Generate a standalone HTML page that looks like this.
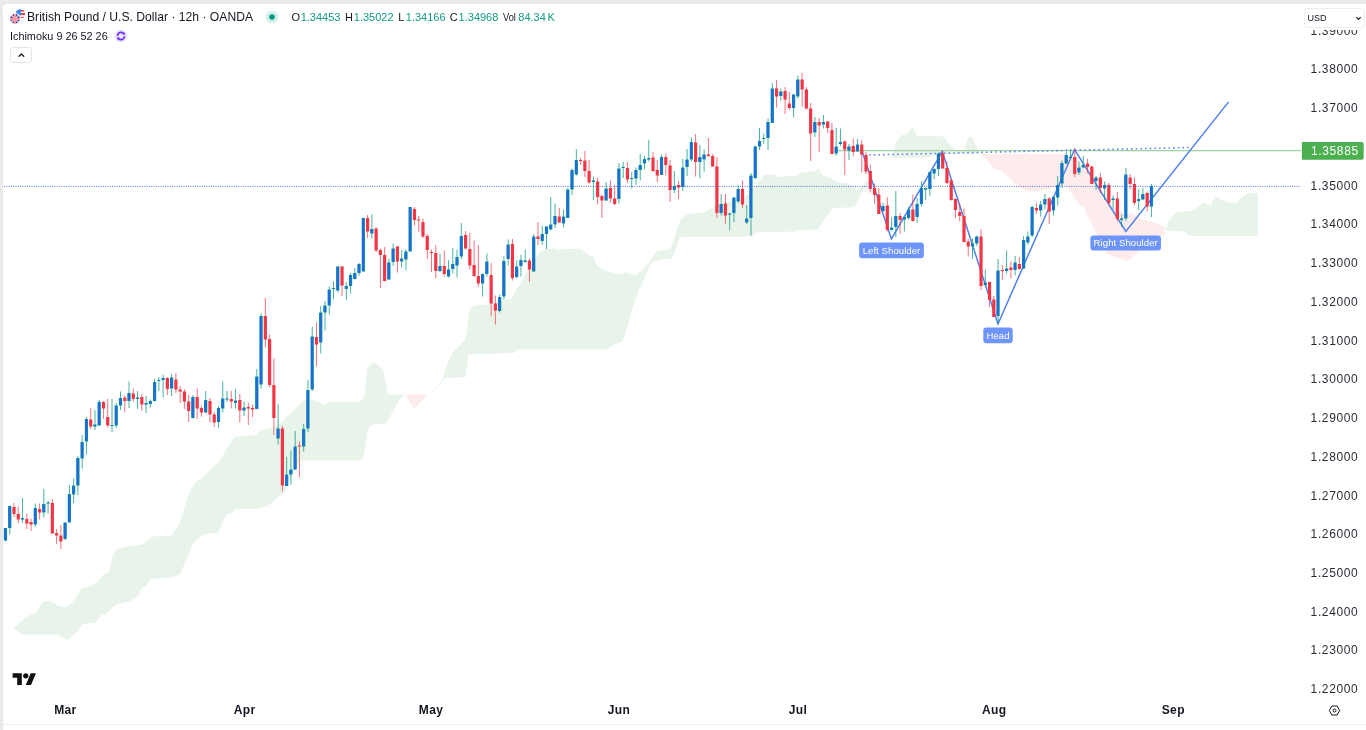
<!DOCTYPE html>
<html><head><meta charset="utf-8"><title>GBPUSD</title>
<style>
html,body{margin:0;padding:0;background:#fff;}
body{width:1366px;height:730px;position:relative;overflow:hidden;font-family:"Liberation Sans",sans-serif;}
svg text{font-family:"Liberation Sans",sans-serif;}
.frame-top{position:absolute;left:0;top:0;width:1366px;height:4px;background:#eaeaea;}
.frame-left{position:absolute;left:0;top:0;width:4px;height:730px;background:linear-gradient(to right,#e7e7e7 0,#ebebeb 2.7px,#fff 3.8px);}
.frame-corner{position:absolute;left:0;top:0;width:9px;height:10px;background:#eaeaea;}
.frame-corner i{position:absolute;left:3px;top:4px;width:12px;height:12px;background:#fff;border-top-left-radius:4px;display:block;}
.frame-bottom{position:absolute;left:3px;top:723.5px;width:1363px;height:1px;background:#efefef;}
.hdr{position:absolute;white-space:nowrap;color:#131722;will-change:transform;}
.t1{left:27.3px;top:10.4px;font-size:12.15px;line-height:14px;}
.t2{left:10.4px;top:29.6px;font-size:10.85px;line-height:13px;}
.ohlc{left:0;top:11.1px;font-size:11px;line-height:13px;}
.ohlc b{font-weight:normal;color:#159a84;}
.ohlc i{position:absolute;top:0;font-style:normal}
.btn{position:absolute;left:9.7px;top:46.7px;width:20.6px;height:14.4px;border:1px solid #e4e5e9;border-radius:3px;background:#fff;}
.usd{will-change:transform;position:absolute;left:1303.6px;top:7.5px;width:58.8px;height:17.6px;border:1px solid #eceef2;border-radius:4px;background:#fff;}
.usdbg{position:absolute;left:1300px;top:4px;width:66px;height:26px;background:#fff;}
.usd span{position:absolute;left:2.6px;top:4.2px;font-size:9px;line-height:10px;color:#131722;letter-spacing:-0.1px}
</style></head><body>
<div class="frame-top"></div><div class="frame-left"></div><div class="frame-corner"><i></i></div><div class="frame-bottom"></div>
<svg width="1366" height="730" viewBox="0 0 1366 730" style="position:absolute;left:0;top:0;will-change:transform"><polygon points="4.4,628.5 13.2,628.0 22.0,620.6 30.8,614.8 35.2,613.3 44.0,600.7 51.3,601.6 58.7,606.0 66.0,607.4 71.8,603.0 82.1,588.4 88.0,586.9 96.8,581.9 104.1,573.7 108.5,572.2 112.9,556.1 117.3,548.8 126.1,546.7 142.2,544.4 149.6,537.9 152.5,536.5 171.6,535.6 178.9,525.3 183.3,512.1 187.7,496.0 193.5,484.3 199.4,479.3 202.3,478.4 211.1,468.1 219.9,460.8 227.3,447.6 234.6,437.3 240.5,435.9 255.1,435.3 261.0,430.0 272.0,428.0 281.0,423.0 286.0,417.0 296.0,408.0 304.0,400.0 316.0,400.5 325.0,405.5 329.0,402.2 360.0,402.2 364.4,395.4 367.3,369.0 371.7,362.6 376.1,363.2 383.4,370.5 387.8,394.5 402.5,394.5 405.4,394.5 405.4,394.5 399.6,399.8 393.7,410.1 386.4,423.3 374.6,424.2 371.0,425.0 367.5,431.0 366.0,442.0 363.5,457.0 360.7,460.5 300.0,460.5 286.0,488.0 283.0,495.0 278.6,496.0 268.3,505.7 258.1,508.6 234.6,509.2 231.7,513.0 225.8,515.0 218.5,532.6 205.3,534.1 197.9,538.5 193.5,542.9 187.7,556.1 180.4,573.7 173.0,577.5 158.4,578.1 149.6,579.6 146.6,586.0 142.2,587.8 136.4,597.7 129.0,601.6 117.3,603.9 112.9,607.4 105.6,614.2 101.2,615.3 95.3,622.7 82.1,624.1 77.7,630.9 71.8,636.7 67.4,639.7 63.0,638.2 57.2,634.4 22.0,634.4 13.2,628.5 4.4,628.5" fill="#e8f4ea"/><polygon points="405.4,394.5 427.4,394.5 414.2,409.2" fill="#fdeceb"/><polygon points="428.9,394.5 437.7,385.2 442.1,380.8 446.5,366.1 452.3,352.9 456.0,349.0 460.0,345.0 465.0,340.0 467.0,330.0 469.0,313.0 471.0,308.0 474.0,305.5 489.0,304.5 504.0,300.0 512.0,298.5 516.0,290.0 522.0,281.0 527.0,270.0 536.0,257.0 540.0,252.0 546.0,249.0 554.0,248.5 559.0,250.0 563.0,249.0 580.0,249.0 585.0,252.0 589.0,255.5 593.0,256.0 596.0,264.0 600.0,268.0 606.4,271.0 618.1,274.0 626.9,272.5 635.7,275.4 641.6,271.0 648.0,264.0 655.0,253.0 658.0,250.4 670.0,249.6 674.0,240.0 678.0,226.0 681.0,219.0 688.0,214.0 704.0,212.4 716.0,206.0 720.0,204.0 748.0,195.0 754.0,188.0 760.0,181.0 764.0,175.0 775.0,174.5 778.0,177.0 792.0,175.5 794.0,177.0 800.0,173.0 815.0,171.0 819.0,168.5 820.0,171.3 823.0,175.8 828.3,177.0 837.3,181.9 848.6,183.4 852.4,186.0 856.9,189.8 860.7,187.9 865.2,181.9 868.5,181.0 868.8,184.0 862.2,191.7 860.0,196.2 856.2,204.5 851.7,207.5 832.1,207.9 829.0,214.3 823.4,221.0 818.0,229.5 800.0,230.0 795.0,231.5 756.0,232.5 752.0,236.5 681.0,237.0 679.0,240.0 676.0,248.0 672.0,258.6 658.0,260.0 652.0,263.0 649.0,267.0 644.0,280.0 640.0,288.0 633.0,306.0 628.3,325.0 622.4,341.2 615.1,344.1 606.3,349.4 516.9,349.4 513.9,352.9 468.5,354.4 465.5,377.2 445.0,377.8 440.6,383.7 428.9,394.5" fill="#e8f4ea"/><polygon points="891.2,157.7 894.2,149.4 896.5,141.8 900.7,135.9 907.7,132.9 912.8,127.0 917.0,136.2 943.0,136.2 948.0,142.0 954.7,149.7 958.0,151.0 963.9,149.7 968.3,137.0 971.8,137.0 976.0,146.0 978.3,149.7 981.2,153.9 940.0,154.0 925.0,157.5" fill="#e8f4ea"/><polygon points="981.2,153.9 1066.6,153.9 1075.0,158.0 1090.0,175.0 1100.0,188.0 1114.0,208.0 1125.0,214.0 1132.0,213.0 1141.0,219.0 1152.0,221.5 1164.7,227.2 1164.6,235.3 1161.0,236.0 1150.0,243.0 1140.2,249.7 1134.7,255.2 1126.4,261.8 1123.7,259.6 1112.8,256.3 1106.2,253.0 1099.0,240.0 1093.0,226.6 1088.6,217.9 1084.2,206.9 1079.8,204.7 1073.2,195.9 1066.6,186.0 1057.9,186.0 1042.5,190.4 1029.3,191.5 1021.6,188.2 1014.0,182.7 1003.0,171.7 994.0,168.4 989.8,163.0" fill="#fdeceb"/><polygon points="1165.1,228.3 1167.1,226.7 1168.3,221.8 1172.0,216.1 1176.8,211.7 1189.8,211.3 1197.0,207.3 1202.7,202.8 1210.8,205.0 1215.2,195.9 1223.7,201.2 1229.4,202.8 1236.6,203.0 1240.7,198.0 1248.8,193.1 1257.8,192.9 1257.8,236.0 1189.0,236.0 1184.9,231.5 1167.1,231.1" fill="#e8f4ea"/><line x1="837" y1="150.6" x2="1301" y2="150.6" stroke="#9ed3a0" stroke-width="1.4"/><polyline points="862.5,152.5 891.4,239 942.3,151.5 998,324 1074.5,149.5 1125.8,231.5 1228.6,101.9" fill="none" stroke="#4f81ee" stroke-width="1.5" stroke-linejoin="miter"/><line x1="869" y1="155" x2="1190" y2="147.5" stroke="#5b86f0" stroke-width="1.6" stroke-dasharray="1.6 3.08"/><rect x="859.1" y="242.5" width="64.8" height="15.8" rx="3" fill="#668ffb" fill-opacity="0.95"/><text x="891.5" y="253.86" font-size="9.6" fill="#fff" text-anchor="middle" letter-spacing="0.05">Left Shoulder</text><rect x="983.3" y="327.5" width="29.4" height="15.8" rx="3" fill="#668ffb" fill-opacity="0.95"/><text x="998.0" y="338.86" font-size="9.6" fill="#fff" text-anchor="middle" letter-spacing="0.05">Head</text><rect x="1090.4" y="235.4" width="70.6" height="15.2" rx="3" fill="#668ffb" fill-opacity="0.95"/><text x="1125.7" y="246.46" font-size="9.6" fill="#fff" text-anchor="middle" letter-spacing="0.05">Right Shoulder</text><path d="M5.50 528.0V541.5M9.76 505.5V534.5M22.54 498.0V523.0M35.32 503.5V527.0M43.84 489.0V517.5M48.10 501.0V513.5M65.14 522.5V540.0M69.40 485.0V522.5M73.66 478.5V503.0M77.92 456.0V495.0M82.18 435.0V468.5M86.44 417.0V454.5M94.96 410.0V430.0M99.22 400.0V426.0M112.00 399.0V432.0M116.26 403.0V428.0M120.52 391.5V410.0M129.04 381.5V408.0M137.56 391.0V409.0M146.08 396.0V413.0M150.34 399.5V407.5M154.60 379.0V401.5M158.86 377.0V391.0M163.12 374.5V397.5M171.64 374.0V396.0M192.94 395.0V418.5M205.72 391.0V413.0M218.50 406.0V428.0M222.76 381.5V412.5M227.02 391.0V402.0M235.54 389.0V408.5M244.06 401.5V416.0M256.84 369.0V409.0M261.10 313.5V388.5M278.14 404.0V444.5M286.66 457.0V486.0M290.92 450.5V485.0M295.18 431.0V470.0M303.70 424.0V451.5M307.96 380.0V432.0M312.22 327.0V391.0M320.74 306.0V353.5M325.00 301.0V330.5M329.26 286.5V314.5M333.52 281.0V299.0M337.78 266.0V292.5M346.30 282.0V300.0M350.56 273.0V293.5M354.82 268.0V279.5M359.08 263.0V275.5M363.34 217.5V271.5M371.86 214.5V238.5M388.90 258.5V280.0M393.16 243.5V266.0M401.68 250.0V267.5M405.94 249.5V270.0M410.20 207.0V251.5M440.02 254.0V272.0M448.54 260.0V277.5M452.80 248.0V273.5M457.06 249.5V277.5M461.32 223.0V259.0M482.62 273.5V296.5M486.88 253.5V276.5M499.66 294.5V312.5M503.92 256.0V299.5M508.18 239.5V265.5M516.70 260.5V278.5M520.96 255.0V276.5M525.22 249.5V262.5M533.74 234.0V271.5M542.26 226.0V245.0M546.52 226.0V249.0M550.78 197.0V230.5M555.04 203.5V228.0M563.56 209.5V227.5M567.82 188.0V218.0M572.08 168.5V195.0M576.34 149.0V175.5M593.38 176.5V200.0M606.16 182.0V201.0M618.94 163.0V203.5M623.20 162.0V178.0M631.72 172.0V188.5M635.98 167.5V185.0M640.24 154.0V180.5M644.50 156.0V169.5M648.76 140.0V161.5M661.54 154.5V175.0M674.32 171.0V193.0M682.84 159.0V191.0M687.10 149.0V176.0M691.36 137.5V161.5M699.88 145.0V178.5M704.14 149.5V171.5M721.18 194.0V215.5M729.70 213.0V230.5M733.96 197.0V222.0M738.22 185.0V203.0M746.74 205.0V224.0M751.00 173.0V235.5M755.26 145.5V179.0M759.52 128.0V150.0M763.78 133.5V144.0M768.04 118.5V150.0M772.30 83.0V123.0M780.82 88.5V100.5M793.60 94.0V117.5M797.86 75.5V98.5M814.90 117.0V137.0M823.42 115.0V128.5M836.20 128.0V155.5M840.46 128.5V146.0M848.98 144.0V160.0M857.50 139.0V151.5M883.06 203.0V212.0M891.58 217.0V230.5M895.84 191.0V237.0M904.36 216.5V231.5M908.62 207.0V219.5M917.14 198.0V223.0M921.40 181.0V206.5M925.66 187.5V200.0M929.92 171.5V196.0M934.18 168.5V179.0M938.44 152.5V176.0M972.52 238.5V259.0M976.78 235.5V246.0M985.30 269.5V286.0M998.08 259.0V324.0M1006.60 250.5V273.5M1015.12 256.0V275.5M1023.64 236.0V269.0M1027.90 231.5V244.5M1032.16 205.5V237.0M1040.68 201.0V216.5M1044.94 194.0V209.5M1053.46 196.0V215.5M1057.72 176.0V205.5M1061.98 160.5V188.0M1066.24 152.0V164.0M1070.50 149.5V159.0M1079.02 161.5V175.0M1083.28 156.0V167.5M1096.06 176.0V190.0M1104.58 181.5V200.0M1113.10 195.5V209.0M1121.62 214.5V227.0M1125.88 168.0V221.0M1138.66 189.0V210.0M1142.92 188.0V200.0M1151.44 184.0V217.0" stroke="#089981" stroke-width="1" fill="none" opacity="0.75"/><path d="M14.02 503.0V517.0M18.28 506.5V523.5M26.80 513.5V529.0M31.06 518.5V531.0M39.58 503.5V519.5M52.36 499.0V533.5M56.62 529.0V544.0M60.88 525.0V549.0M90.70 408.0V429.0M103.48 401.0V419.0M107.74 399.0V427.5M124.78 395.5V412.0M133.30 388.5V401.5M141.82 394.0V411.0M167.38 377.0V395.0M175.90 373.0V393.0M180.16 386.0V403.0M184.42 389.0V409.0M188.68 395.0V422.0M197.20 388.5V419.0M201.46 406.0V416.5M209.98 398.0V422.5M214.24 412.0V427.0M231.28 391.0V408.5M239.80 394.0V422.5M248.32 402.5V425.0M252.58 404.5V417.0M265.36 298.0V347.5M269.62 334.5V387.5M273.88 358.5V435.0M282.40 426.0V491.5M299.44 441.5V477.5M316.48 322.5V366.5M342.04 266.0V296.0M367.60 215.0V238.0M376.12 227.5V252.0M380.38 248.5V288.0M384.64 247.0V281.5M397.42 246.0V272.5M414.46 207.0V225.5M418.72 216.0V231.5M422.98 218.5V238.0M427.24 234.0V259.0M431.50 249.5V272.0M435.76 245.0V278.0M444.28 250.5V276.5M465.58 231.0V249.5M469.84 233.0V269.5M474.10 240.5V277.0M478.36 245.0V286.5M491.14 263.0V316.5M495.40 295.5V324.5M512.44 239.0V280.5M529.48 258.5V282.0M538.00 222.0V245.0M559.30 208.0V223.0M580.60 158.0V165.0M584.86 151.0V177.0M589.12 160.0V184.5M597.64 177.5V204.5M601.90 194.5V218.0M610.42 180.5V202.5M614.68 185.0V205.5M627.46 162.0V183.0M653.02 152.0V172.0M657.28 160.0V182.0M665.80 153.5V175.5M670.06 160.0V202.0M678.58 181.0V199.0M695.62 134.0V176.5M708.40 138.0V157.0M712.66 154.0V167.0M716.92 157.0V218.0M725.44 194.0V223.5M742.48 180.5V208.0M776.56 80.0V107.5M785.08 87.0V114.0M789.34 92.0V110.0M802.12 73.0V106.5M806.38 87.0V109.5M810.64 103.0V161.0M819.16 118.0V152.0M827.68 121.0V133.0M831.94 123.0V154.0M844.72 140.5V175.0M853.24 138.5V156.5M861.76 140.0V172.5M866.02 152.0V174.0M870.28 164.5V192.5M874.54 183.5V203.5M878.80 188.0V214.0M887.32 197.5V231.5M900.10 213.0V234.0M912.88 194.5V221.5M942.70 151.0V168.5M946.96 161.0V184.0M951.22 179.0V200.5M955.48 198.5V218.0M959.74 203.0V221.5M964.00 208.5V242.5M968.26 239.0V256.5M981.04 229.0V290.0M989.56 281.5V307.0M993.82 296.0V317.0M1002.34 265.0V280.0M1010.86 261.5V278.5M1019.38 257.0V269.5M1036.42 203.0V214.0M1049.20 197.0V224.0M1074.76 148.0V177.0M1087.54 159.0V173.0M1091.80 165.5V184.0M1100.32 173.0V193.0M1108.84 183.0V205.5M1117.36 192.0V221.5M1130.14 174.0V189.0M1134.40 177.5V205.5M1147.18 191.5V211.5" stroke="#f23645" stroke-width="1" fill="none" opacity="0.7"/><path d="M3.90 528.0h3.2V540.5h-3.2zM8.16 506.0h3.2V528.0h-3.2zM20.94 518.0h3.2V519.5h-3.2zM33.72 508.0h3.2V524.5h-3.2zM42.24 504.0h3.2V512.5h-3.2zM46.50 502.4h3.2V503.6h-3.2zM63.54 522.5h3.2V539.0h-3.2zM67.80 494.0h3.2V522.5h-3.2zM72.06 485.5h3.2V494.5h-3.2zM76.32 458.0h3.2V485.5h-3.2zM80.58 442.0h3.2V458.5h-3.2zM84.84 419.0h3.2V441.5h-3.2zM93.36 424.5h3.2V426.5h-3.2zM97.62 402.0h3.2V425.5h-3.2zM110.40 424.9h3.2V426.1h-3.2zM114.66 405.5h3.2V425.5h-3.2zM118.92 398.0h3.2V405.5h-3.2zM127.44 393.0h3.2V401.0h-3.2zM135.96 397.5h3.2V399.0h-3.2zM144.48 403.0h3.2V404.5h-3.2zM148.74 401.0h3.2V404.0h-3.2zM153.00 382.0h3.2V401.0h-3.2zM157.26 379.9h3.2V381.1h-3.2zM161.52 378.0h3.2V380.0h-3.2zM170.04 377.5h3.2V388.5h-3.2zM191.34 397.0h3.2V418.0h-3.2zM204.12 400.0h3.2V412.5h-3.2zM216.90 408.0h3.2V422.0h-3.2zM221.16 398.5h3.2V408.5h-3.2zM225.42 398.4h3.2V399.6h-3.2zM233.94 400.5h3.2V403.0h-3.2zM242.46 407.5h3.2V410.5h-3.2zM255.24 376.5h3.2V409.0h-3.2zM259.50 316.0h3.2V384.5h-3.2zM276.54 428.5h3.2V438.5h-3.2zM285.06 474.5h3.2V486.0h-3.2zM289.32 469.5h3.2V474.5h-3.2zM293.58 446.5h3.2V469.5h-3.2zM302.10 429.0h3.2V446.5h-3.2zM306.36 390.0h3.2V428.5h-3.2zM310.62 336.5h3.2V389.5h-3.2zM319.14 312.5h3.2V342.5h-3.2zM323.40 305.5h3.2V312.5h-3.2zM327.66 289.5h3.2V305.5h-3.2zM331.92 287.9h3.2V289.1h-3.2zM336.18 266.5h3.2V290.5h-3.2zM344.70 286.0h3.2V289.0h-3.2zM348.96 275.0h3.2V286.0h-3.2zM353.22 273.0h3.2V279.0h-3.2zM357.48 264.0h3.2V273.0h-3.2zM361.74 218.0h3.2V271.5h-3.2zM370.26 229.0h3.2V233.5h-3.2zM387.30 262.5h3.2V279.5h-3.2zM391.56 248.5h3.2V262.0h-3.2zM400.08 258.5h3.2V261.5h-3.2zM404.34 251.5h3.2V259.5h-3.2zM408.60 207.0h3.2V251.5h-3.2zM438.42 266.0h3.2V271.0h-3.2zM446.94 269.5h3.2V276.5h-3.2zM451.20 264.0h3.2V269.0h-3.2zM455.46 257.0h3.2V265.5h-3.2zM459.72 236.0h3.2V256.5h-3.2zM481.02 274.0h3.2V283.5h-3.2zM485.28 261.5h3.2V274.0h-3.2zM498.06 297.0h3.2V311.0h-3.2zM502.32 261.0h3.2V296.5h-3.2zM506.58 244.5h3.2V259.0h-3.2zM515.10 266.5h3.2V277.0h-3.2zM519.36 260.0h3.2V266.0h-3.2zM523.62 260.5h3.2V262.0h-3.2zM532.14 236.5h3.2V271.5h-3.2zM540.66 234.0h3.2V241.0h-3.2zM544.92 226.5h3.2V234.0h-3.2zM549.18 224.5h3.2V229.5h-3.2zM553.44 216.0h3.2V224.5h-3.2zM561.96 216.5h3.2V223.5h-3.2zM566.22 189.5h3.2V218.0h-3.2zM570.48 170.0h3.2V189.5h-3.2zM574.74 160.0h3.2V174.5h-3.2zM591.78 180.5h3.2V182.0h-3.2zM604.56 188.5h3.2V200.5h-3.2zM617.34 168.5h3.2V199.0h-3.2zM621.60 166.9h3.2V168.1h-3.2zM630.12 177.9h3.2V179.1h-3.2zM634.38 170.0h3.2V178.5h-3.2zM638.64 165.0h3.2V170.0h-3.2zM642.90 159.0h3.2V163.5h-3.2zM647.16 158.0h3.2V159.5h-3.2zM659.94 157.0h3.2V175.0h-3.2zM672.72 186.0h3.2V190.0h-3.2zM681.24 167.5h3.2V187.0h-3.2zM685.50 159.5h3.2V167.0h-3.2zM689.76 142.0h3.2V159.5h-3.2zM698.28 157.0h3.2V162.0h-3.2zM702.54 154.5h3.2V159.5h-3.2zM719.58 204.0h3.2V213.0h-3.2zM728.10 213.4h3.2V214.6h-3.2zM732.36 197.5h3.2V213.0h-3.2zM736.62 189.0h3.2V201.5h-3.2zM745.14 218.5h3.2V222.5h-3.2zM749.40 175.5h3.2V218.0h-3.2zM753.66 146.5h3.2V178.0h-3.2zM757.92 141.0h3.2V146.5h-3.2zM762.18 137.9h3.2V139.1h-3.2zM766.44 122.0h3.2V138.0h-3.2zM770.70 88.5h3.2V123.0h-3.2zM779.22 91.5h3.2V96.0h-3.2zM792.00 94.5h3.2V108.0h-3.2zM796.26 79.5h3.2V96.5h-3.2zM813.30 122.0h3.2V132.5h-3.2zM821.82 122.0h3.2V124.5h-3.2zM834.60 146.5h3.2V153.5h-3.2zM838.86 142.0h3.2V144.0h-3.2zM847.38 146.5h3.2V150.5h-3.2zM855.90 144.5h3.2V151.5h-3.2zM881.46 206.0h3.2V211.0h-3.2zM889.98 227.5h3.2V230.0h-3.2zM894.24 216.0h3.2V227.0h-3.2zM902.76 217.0h3.2V219.5h-3.2zM907.02 209.5h3.2V218.0h-3.2zM915.54 204.0h3.2V217.0h-3.2zM919.80 188.0h3.2V204.0h-3.2zM924.06 188.0h3.2V189.5h-3.2zM928.32 172.0h3.2V189.0h-3.2zM932.58 169.0h3.2V173.5h-3.2zM936.84 153.5h3.2V169.0h-3.2zM970.92 243.5h3.2V246.5h-3.2zM975.18 236.5h3.2V243.5h-3.2zM983.70 282.5h3.2V285.0h-3.2zM996.48 270.5h3.2V316.0h-3.2zM1005.00 268.5h3.2V271.0h-3.2zM1013.52 262.5h3.2V270.0h-3.2zM1022.04 240.0h3.2V268.5h-3.2zM1026.30 236.5h3.2V242.5h-3.2zM1030.56 207.0h3.2V235.5h-3.2zM1039.08 204.5h3.2V210.5h-3.2zM1043.34 199.0h3.2V204.5h-3.2zM1051.86 197.0h3.2V210.5h-3.2zM1056.12 185.0h3.2V197.5h-3.2zM1060.38 163.0h3.2V183.5h-3.2zM1064.64 155.0h3.2V163.5h-3.2zM1068.90 156.9h3.2V158.1h-3.2zM1077.42 167.5h3.2V172.5h-3.2zM1081.68 165.0h3.2V167.5h-3.2zM1094.46 177.5h3.2V181.0h-3.2zM1102.98 185.0h3.2V188.5h-3.2zM1111.50 198.5h3.2V200.0h-3.2zM1120.02 218.5h3.2V220.0h-3.2zM1124.28 174.5h3.2V218.5h-3.2zM1137.06 199.0h3.2V201.0h-3.2zM1141.32 194.0h3.2V199.5h-3.2zM1149.84 186.0h3.2V206.5h-3.2z" fill="#089981"/><path d="M4.15 528.5h2.3V540.0h-2.3zM8.41 506.5h2.3V527.5h-2.3zM21.34 518.3h2.0V519.2h-2.0zM33.97 508.5h2.3V524.0h-2.3zM42.49 504.5h2.3V512.0h-2.3zM46.90 502.7h2.0V503.3h-2.0zM63.79 523.0h2.3V538.5h-2.3zM68.05 494.5h2.3V522.0h-2.3zM72.31 486.0h2.3V494.0h-2.3zM76.57 458.5h2.3V485.0h-2.3zM80.83 442.5h2.3V458.0h-2.3zM85.09 419.5h2.3V441.0h-2.3zM93.76 424.8h2.0V426.2h-2.0zM97.87 402.5h2.3V425.0h-2.3zM110.80 425.2h2.0V425.8h-2.0zM114.91 406.0h2.3V425.0h-2.3zM119.17 398.5h2.3V405.0h-2.3zM127.69 393.5h2.3V400.5h-2.3zM136.36 397.8h2.0V398.7h-2.0zM144.88 403.3h2.0V404.2h-2.0zM148.99 401.5h2.3V403.5h-2.3zM153.25 382.5h2.3V400.5h-2.3zM157.66 380.2h2.0V380.8h-2.0zM161.92 378.3h2.0V379.7h-2.0zM170.29 378.0h2.3V388.0h-2.3zM191.59 397.5h2.3V417.5h-2.3zM204.37 400.5h2.3V412.0h-2.3zM217.15 408.5h2.3V421.5h-2.3zM221.41 399.0h2.3V408.0h-2.3zM225.82 398.7h2.0V399.3h-2.0zM234.19 401.0h2.3V402.5h-2.3zM242.71 408.0h2.3V410.0h-2.3zM255.49 377.0h2.3V408.5h-2.3zM259.75 316.5h2.3V384.0h-2.3zM276.79 429.0h2.3V438.0h-2.3zM285.31 475.0h2.3V485.5h-2.3zM289.57 470.0h2.3V474.0h-2.3zM293.83 447.0h2.3V469.0h-2.3zM302.35 429.5h2.3V446.0h-2.3zM306.61 390.5h2.3V428.0h-2.3zM310.87 337.0h2.3V389.0h-2.3zM319.39 313.0h2.3V342.0h-2.3zM323.65 306.0h2.3V312.0h-2.3zM327.91 290.0h2.3V305.0h-2.3zM332.32 288.2h2.0V288.8h-2.0zM336.43 267.0h2.3V290.0h-2.3zM344.95 286.5h2.3V288.5h-2.3zM349.21 275.5h2.3V285.5h-2.3zM353.47 273.5h2.3V278.5h-2.3zM357.73 264.5h2.3V272.5h-2.3zM361.99 218.5h2.3V271.0h-2.3zM370.51 229.5h2.3V233.0h-2.3zM387.55 263.0h2.3V279.0h-2.3zM391.81 249.0h2.3V261.5h-2.3zM400.33 259.0h2.3V261.0h-2.3zM404.59 252.0h2.3V259.0h-2.3zM408.85 207.5h2.3V251.0h-2.3zM438.67 266.5h2.3V270.5h-2.3zM447.19 270.0h2.3V276.0h-2.3zM451.45 264.5h2.3V268.5h-2.3zM455.71 257.5h2.3V265.0h-2.3zM459.97 236.5h2.3V256.0h-2.3zM481.27 274.5h2.3V283.0h-2.3zM485.53 262.0h2.3V273.5h-2.3zM498.31 297.5h2.3V310.5h-2.3zM502.57 261.5h2.3V296.0h-2.3zM506.83 245.0h2.3V258.5h-2.3zM515.35 267.0h2.3V276.5h-2.3zM519.61 260.5h2.3V265.5h-2.3zM524.02 260.8h2.0V261.7h-2.0zM532.39 237.0h2.3V271.0h-2.3zM540.91 234.5h2.3V240.5h-2.3zM545.17 227.0h2.3V233.5h-2.3zM549.43 225.0h2.3V229.0h-2.3zM553.69 216.5h2.3V224.0h-2.3zM562.21 217.0h2.3V223.0h-2.3zM566.47 190.0h2.3V217.5h-2.3zM570.73 170.5h2.3V189.0h-2.3zM574.99 160.5h2.3V174.0h-2.3zM592.18 180.8h2.0V181.7h-2.0zM604.81 189.0h2.3V200.0h-2.3zM617.59 169.0h2.3V198.5h-2.3zM622.00 167.2h2.0V167.8h-2.0zM630.52 178.2h2.0V178.8h-2.0zM634.63 170.5h2.3V178.0h-2.3zM638.89 165.5h2.3V169.5h-2.3zM643.15 159.5h2.3V163.0h-2.3zM647.56 158.3h2.0V159.2h-2.0zM660.19 157.5h2.3V174.5h-2.3zM672.97 186.5h2.3V189.5h-2.3zM681.49 168.0h2.3V186.5h-2.3zM685.75 160.0h2.3V166.5h-2.3zM690.01 142.5h2.3V159.0h-2.3zM698.53 157.5h2.3V161.5h-2.3zM702.79 155.0h2.3V159.0h-2.3zM719.83 204.5h2.3V212.5h-2.3zM728.50 213.7h2.0V214.3h-2.0zM732.61 198.0h2.3V212.5h-2.3zM736.87 189.5h2.3V201.0h-2.3zM745.39 219.0h2.3V222.0h-2.3zM749.65 176.0h2.3V217.5h-2.3zM753.91 147.0h2.3V177.5h-2.3zM758.17 141.5h2.3V146.0h-2.3zM762.58 138.2h2.0V138.8h-2.0zM766.69 122.5h2.3V137.5h-2.3zM770.95 89.0h2.3V122.5h-2.3zM779.47 92.0h2.3V95.5h-2.3zM792.25 95.0h2.3V107.5h-2.3zM796.51 80.0h2.3V96.0h-2.3zM813.55 122.5h2.3V132.0h-2.3zM822.07 122.5h2.3V124.0h-2.3zM834.85 147.0h2.3V153.0h-2.3zM839.26 142.3h2.0V143.7h-2.0zM847.63 147.0h2.3V150.0h-2.3zM856.15 145.0h2.3V151.0h-2.3zM881.71 206.5h2.3V210.5h-2.3zM890.23 228.0h2.3V229.5h-2.3zM894.49 216.5h2.3V226.5h-2.3zM903.01 217.5h2.3V219.0h-2.3zM907.27 210.0h2.3V217.5h-2.3zM915.79 204.5h2.3V216.5h-2.3zM920.05 188.5h2.3V203.5h-2.3zM924.46 188.3h2.0V189.2h-2.0zM928.57 172.5h2.3V188.5h-2.3zM932.83 169.5h2.3V173.0h-2.3zM937.09 154.0h2.3V168.5h-2.3zM971.17 244.0h2.3V246.0h-2.3zM975.43 237.0h2.3V243.0h-2.3zM983.95 283.0h2.3V284.5h-2.3zM996.73 271.0h2.3V315.5h-2.3zM1005.25 269.0h2.3V270.5h-2.3zM1013.77 263.0h2.3V269.5h-2.3zM1022.29 240.5h2.3V268.0h-2.3zM1026.55 237.0h2.3V242.0h-2.3zM1030.81 207.5h2.3V235.0h-2.3zM1039.33 205.0h2.3V210.0h-2.3zM1043.59 199.5h2.3V204.0h-2.3zM1052.11 197.5h2.3V210.0h-2.3zM1056.37 185.5h2.3V197.0h-2.3zM1060.63 163.5h2.3V183.0h-2.3zM1064.89 155.5h2.3V163.0h-2.3zM1069.30 157.2h2.0V157.8h-2.0zM1077.67 168.0h2.3V172.0h-2.3zM1081.93 165.5h2.3V167.0h-2.3zM1094.71 178.0h2.3V180.5h-2.3zM1103.23 185.5h2.3V188.0h-2.3zM1111.90 198.8h2.0V199.7h-2.0zM1120.42 218.8h2.0V219.7h-2.0zM1124.53 175.0h2.3V218.0h-2.3zM1137.46 199.3h2.0V200.7h-2.0zM1141.57 194.5h2.3V199.0h-2.3zM1150.09 186.5h2.3V206.0h-2.3z" fill="#1f6ae0"/><path d="M12.42 507.0h3.2V514.0h-3.2zM16.68 514.0h3.2V519.5h-3.2zM25.20 519.0h3.2V523.5h-3.2zM29.46 522.0h3.2V524.5h-3.2zM37.98 509.0h3.2V512.5h-3.2zM50.76 503.0h3.2V533.5h-3.2zM55.02 533.0h3.2V535.5h-3.2zM59.28 535.5h3.2V541.5h-3.2zM89.10 419.5h3.2V426.5h-3.2zM101.88 402.0h3.2V408.5h-3.2zM106.14 417.0h3.2V425.5h-3.2zM123.18 397.5h3.2V401.0h-3.2zM131.70 393.5h3.2V399.0h-3.2zM140.22 397.0h3.2V404.5h-3.2zM165.78 378.0h3.2V389.0h-3.2zM174.30 379.5h3.2V389.5h-3.2zM178.56 389.5h3.2V391.5h-3.2zM182.82 391.5h3.2V401.5h-3.2zM187.08 401.5h3.2V411.0h-3.2zM195.60 397.0h3.2V408.5h-3.2zM199.86 408.0h3.2V412.5h-3.2zM208.38 401.0h3.2V414.5h-3.2zM212.64 414.5h3.2V422.5h-3.2zM229.68 399.0h3.2V401.5h-3.2zM238.20 400.0h3.2V410.5h-3.2zM246.72 407.0h3.2V408.5h-3.2zM250.98 408.0h3.2V409.5h-3.2zM263.76 316.0h3.2V339.5h-3.2zM268.02 339.0h3.2V385.0h-3.2zM272.28 385.0h3.2V418.0h-3.2zM280.80 428.5h3.2V485.5h-3.2zM297.84 445.4h3.2V446.6h-3.2zM314.88 337.0h3.2V344.5h-3.2zM340.44 266.5h3.2V285.5h-3.2zM366.00 218.0h3.2V231.5h-3.2zM374.52 228.5h3.2V250.5h-3.2zM378.78 250.0h3.2V255.0h-3.2zM383.04 255.0h3.2V281.0h-3.2zM395.82 246.5h3.2V261.5h-3.2zM412.86 209.0h3.2V220.0h-3.2zM417.12 219.4h3.2V220.6h-3.2zM421.38 222.0h3.2V236.5h-3.2zM425.64 236.0h3.2V250.0h-3.2zM429.90 251.9h3.2V253.1h-3.2zM434.16 253.0h3.2V271.0h-3.2zM442.68 266.0h3.2V274.0h-3.2zM463.98 235.0h3.2V248.5h-3.2zM468.24 249.0h3.2V265.5h-3.2zM472.50 265.0h3.2V276.0h-3.2zM476.76 276.0h3.2V283.5h-3.2zM489.54 275.0h3.2V303.5h-3.2zM493.80 303.5h3.2V310.5h-3.2zM510.84 244.0h3.2V278.0h-3.2zM527.88 260.5h3.2V269.5h-3.2zM536.40 236.5h3.2V239.0h-3.2zM557.70 216.5h3.2V222.5h-3.2zM579.00 159.9h3.2V161.1h-3.2zM583.26 160.5h3.2V171.0h-3.2zM587.52 171.0h3.2V182.5h-3.2zM596.04 181.5h3.2V197.0h-3.2zM600.30 196.0h3.2V200.5h-3.2zM608.82 188.0h3.2V198.5h-3.2zM613.08 198.5h3.2V204.0h-3.2zM625.86 168.0h3.2V179.5h-3.2zM651.42 157.5h3.2V171.0h-3.2zM655.68 170.0h3.2V175.5h-3.2zM664.20 157.0h3.2V165.0h-3.2zM668.46 165.5h3.2V190.0h-3.2zM676.98 185.0h3.2V187.5h-3.2zM694.02 142.5h3.2V162.0h-3.2zM706.80 154.5h3.2V156.0h-3.2zM711.06 156.0h3.2V166.5h-3.2zM715.32 166.5h3.2V213.0h-3.2zM723.84 203.5h3.2V215.5h-3.2zM740.88 189.0h3.2V204.5h-3.2zM774.96 88.5h3.2V96.5h-3.2zM783.48 91.0h3.2V99.5h-3.2zM787.74 103.5h3.2V108.0h-3.2zM800.52 79.5h3.2V89.5h-3.2zM804.78 89.5h3.2V108.5h-3.2zM809.04 108.5h3.2V133.5h-3.2zM817.56 122.0h3.2V125.5h-3.2zM826.08 121.5h3.2V128.0h-3.2zM830.34 130.0h3.2V154.0h-3.2zM843.12 141.5h3.2V149.5h-3.2zM851.64 146.0h3.2V152.0h-3.2zM860.16 144.5h3.2V154.5h-3.2zM864.42 155.0h3.2V171.5h-3.2zM868.68 171.0h3.2V189.0h-3.2zM872.94 188.0h3.2V195.0h-3.2zM877.20 194.5h3.2V214.0h-3.2zM885.72 205.5h3.2V230.0h-3.2zM898.50 216.0h3.2V220.0h-3.2zM911.28 209.5h3.2V221.0h-3.2zM941.10 153.5h3.2V168.5h-3.2zM945.36 168.0h3.2V183.0h-3.2zM949.62 180.5h3.2V200.0h-3.2zM953.88 199.0h3.2V210.0h-3.2zM958.14 212.0h3.2V216.0h-3.2zM962.40 216.0h3.2V242.0h-3.2zM966.66 241.5h3.2V246.5h-3.2zM979.44 236.5h3.2V286.0h-3.2zM987.96 282.0h3.2V300.0h-3.2zM992.22 299.5h3.2V317.0h-3.2zM1000.74 269.9h3.2V271.1h-3.2zM1009.26 267.5h3.2V270.0h-3.2zM1017.78 264.0h3.2V269.0h-3.2zM1034.82 208.0h3.2V210.5h-3.2zM1047.60 198.5h3.2V211.5h-3.2zM1073.16 157.0h3.2V174.0h-3.2zM1085.94 163.5h3.2V167.0h-3.2zM1090.20 166.5h3.2V184.0h-3.2zM1098.72 177.5h3.2V188.0h-3.2zM1107.24 185.0h3.2V203.0h-3.2zM1115.76 198.5h3.2V219.0h-3.2zM1128.54 177.5h3.2V184.0h-3.2zM1132.80 184.0h3.2V203.0h-3.2zM1145.58 193.0h3.2V206.5h-3.2z" fill="#f23645"/><line x1="4" y1="186.4" x2="1301" y2="186.4" stroke="#3a62d8" stroke-width="1" stroke-dasharray="1 1.3" opacity="0.9"/><text x="1310.6" y="73.45" font-size="12" fill="#131722" letter-spacing="0.62" opacity="0.92">1.38000</text><text x="1310.6" y="112.19" font-size="12" fill="#131722" letter-spacing="0.62" opacity="0.92">1.37000</text><text x="1310.6" y="189.66" font-size="12" fill="#131722" letter-spacing="0.62" opacity="0.92">1.35000</text><text x="1310.6" y="228.39" font-size="12" fill="#131722" letter-spacing="0.62" opacity="0.92">1.34000</text><text x="1310.6" y="267.12" font-size="12" fill="#131722" letter-spacing="0.62" opacity="0.92">1.33000</text><text x="1310.6" y="305.86" font-size="12" fill="#131722" letter-spacing="0.62" opacity="0.92">1.32000</text><text x="1310.6" y="344.59" font-size="12" fill="#131722" letter-spacing="0.62" opacity="0.92">1.31000</text><text x="1310.6" y="383.33" font-size="12" fill="#131722" letter-spacing="0.62" opacity="0.92">1.30000</text><text x="1310.6" y="422.06" font-size="12" fill="#131722" letter-spacing="0.62" opacity="0.92">1.29000</text><text x="1310.6" y="460.80" font-size="12" fill="#131722" letter-spacing="0.62" opacity="0.92">1.28000</text><text x="1310.6" y="499.53" font-size="12" fill="#131722" letter-spacing="0.62" opacity="0.92">1.27000</text><text x="1310.6" y="538.27" font-size="12" fill="#131722" letter-spacing="0.62" opacity="0.92">1.26000</text><text x="1310.6" y="577.00" font-size="12" fill="#131722" letter-spacing="0.62" opacity="0.92">1.25000</text><text x="1310.6" y="615.74" font-size="12" fill="#131722" letter-spacing="0.62" opacity="0.92">1.24000</text><text x="1310.6" y="654.48" font-size="12" fill="#131722" letter-spacing="0.62" opacity="0.92">1.23000</text><text x="1310.6" y="693.21" font-size="12" fill="#131722" letter-spacing="0.62" opacity="0.92">1.22000</text><clipPath id="c39"><rect x="1300" y="30" width="66" height="10"/></clipPath><text x="1310.6" y="34.72" font-size="12" fill="#131722" letter-spacing="0.62" opacity="0.92" clip-path="url(#c39)">1.39000</text><path d="M1301.9 142h59.3a2.5 2.5 0 0 1 2.5 2.5v12.7a2.5 2.5 0 0 1 -2.5 2.5h-59.3z" fill="#4caf50"/><text x="1311" y="155.1" font-size="12" fill="#fff" letter-spacing="0.62">1.35885</text><text x="65.4" y="713.6" font-size="12" font-weight="bold" fill="#131722" text-anchor="middle" letter-spacing="0.35">Mar</text><text x="244.6" y="713.6" font-size="12" font-weight="bold" fill="#131722" text-anchor="middle" letter-spacing="0.35">Apr</text><text x="431" y="713.6" font-size="12" font-weight="bold" fill="#131722" text-anchor="middle" letter-spacing="0.35">May</text><text x="619" y="713.6" font-size="12" font-weight="bold" fill="#131722" text-anchor="middle" letter-spacing="0.35">Jun</text><text x="798" y="713.6" font-size="12" font-weight="bold" fill="#131722" text-anchor="middle" letter-spacing="0.35">Jul</text><text x="994.3" y="713.6" font-size="12" font-weight="bold" fill="#131722" text-anchor="middle" letter-spacing="0.35">Aug</text><text x="1173.3" y="713.6" font-size="12" font-weight="bold" fill="#131722" text-anchor="middle" letter-spacing="0.35">Sep</text><g transform="translate(12.6,670.6) scale(0.658)" fill="#111"><path d="M14 22H7V11H0V4h14v18zM28 22h-8l7.5-18h8L28 22z"/><circle cx="20" cy="8" r="4"/></g><g transform="translate(1334.5,710.5)" fill="none" stroke="#131722" stroke-width="1"><path d="M-2.6 -4.5h5.2l2.6 4.5l-2.6 4.5h-5.2l-2.6 -4.5z"/><circle r="1.5"/></g></svg>
<svg width="20" height="20" viewBox="0 0 20 20" style="position:absolute;left:6px;top:4px">
<defs><clipPath id="uk"><circle cx="9.05" cy="14.8" r="4.9"/></clipPath><clipPath id="us"><circle cx="14.5" cy="9.9" r="4.7"/></clipPath></defs>
<g clip-path="url(#us)"><rect x="9" y="4" width="12" height="12" fill="#fff"/><rect x="9" y="5.9" width="12" height="1.7" fill="#f23645"/><rect x="9" y="9.1" width="12" height="1.9" fill="#f23645"/><rect x="9" y="12.9" width="12" height="1.3" fill="#f23645"/><rect x="9" y="4" width="5.97" height="7.5" fill="#2f8fee"/></g>
<circle cx="9.05" cy="14.8" r="5.9" fill="#fff"/>
<g clip-path="url(#uk)"><rect x="4" y="9" width="11" height="11" fill="#f9b9bf"/><path d="M9.86 12.97L10.22 9.73L12.03 10.54zM10.88 13.99L13.31 11.82L14.12 13.63zM10.88 15.61L14.12 15.97L13.31 17.78zM9.86 16.63L12.03 19.06L10.22 19.87zM8.24 16.63L7.88 19.87L6.07 19.06zM7.22 15.61L4.79 17.78L3.98 15.97zM7.22 13.99L3.98 13.63L4.79 11.82zM8.24 12.97L6.07 10.54L7.88 9.73z" fill="#1a47b8"/><path d="M9.05 9v11.5M4 14.8h11" stroke="#f58f99" stroke-width="1.6"/></g>
</svg>
<div class="hdr t1">British Pound / U.S. Dollar · 12h · OANDA</div>
<svg width="14" height="14" viewBox="0 0 14 14" style="position:absolute;left:265.2px;top:10.2px"><circle cx="7" cy="7" r="6.5" fill="#d5f0ea"/><circle cx="7" cy="7" r="2.8" fill="#089981"/></svg>
<div class="hdr ohlc"><i style="left:291.6px">O</i><i style="left:300.7px;color:#159a84">1.34453</i><i style="left:345.0px">H</i><i style="left:353.8px;color:#159a84">1.35022</i><i style="left:398.3px">L</i><i style="left:405.8px;color:#159a84">1.34166</i><i style="left:449.7px">C</i><i style="left:458.6px;color:#159a84">1.34968</i><i style="left:503.4px;transform:scaleX(0.84);transform-origin:0 0">Vol</i><i style="left:518.3px;color:#159a84">84.34</i><i style="left:547.4px;color:#159a84">K</i></div>
<div class="hdr t2">Ichimoku 9 26 52 26</div>
<svg width="14" height="14" viewBox="0 0 14 14" style="position:absolute;left:114.2px;top:28.6px"><circle cx="7" cy="7" r="6.5" fill="#ebe3fd"/><g fill="none" stroke="#6a2bf0" stroke-width="1.7" stroke-linecap="round"><path d="M3.6 6.2a3.5 3.5 0 0 1 6.3 -1.4"/><path d="M10.4 7.8a3.5 3.5 0 0 1 -6.3 1.4"/></g><path d="M10.6 3.2v2.3h-2.3z M3.4 10.8v-2.3h2.3z" fill="#6a2bf0"/></svg>
<div class="btn"><svg width="21" height="15" viewBox="0 0 21 15" style="position:absolute;left:0;top:0"><path d="M8 8.3l2.4-2.3l2.4 2.3" fill="none" stroke="#131722" stroke-width="1.3" stroke-linecap="round" stroke-linejoin="round"/></svg></div>
<div class="usdbg"></div>
<div class="usd"><span>USD</span><svg width="8" height="6" viewBox="0 0 8 6" style="position:absolute;left:50.2px;top:7.2px"><path d="M1.6 1.4l1.9 1.9l1.9-1.9" fill="none" stroke="#131722" stroke-width="1.1" stroke-linecap="round" stroke-linejoin="round"/></svg></div>
</body></html>
